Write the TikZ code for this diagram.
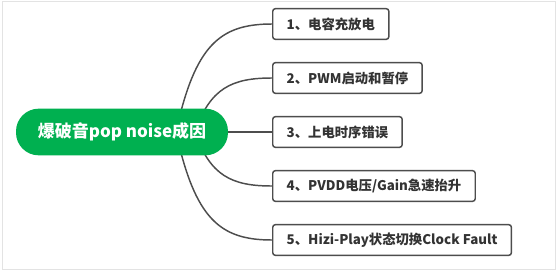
\documentclass[tikz,border=0pt]{standalone}
\usepackage{fontspec}
\setmainfont{Noto Sans CJK SC}
\usepackage{tikz}
\usetikzlibrary{positioning, backgrounds}
\definecolor{rootgreen}{HTML}{00B050}
\definecolor{linegray}{HTML}{4D4D4D}
\definecolor{textgray}{HTML}{333333}
\definecolor{framegray}{HTML}{E3E3E3}

\begin{document}
\begin{tikzpicture}[x=0.75pt, y=-0.75pt,
  root/.style={rectangle, rounded corners=17pt, fill=rootgreen, text=white,
               minimum width=159pt, minimum height=35pt,
               font=\bfseries\fontsize{12.75}{15}\selectfont},
  cause/.style={rectangle, rounded corners=2pt, draw=linegray, line width=1.1pt,
                fill=white, minimum height=23pt, inner xsep=10.5pt, text=textgray,
                anchor=west, font=\bfseries\fontsize{10}{12}\selectfont},
  link/.style={draw=linegray, line width=1.1pt},
]
  \useasboundingbox (0,0) rectangle (558,272);
  \draw[framegray] (2,1) rectangle (555,269);

  \node[root] (root) at (122,132) {爆破音pop noise成因};
  \node[cause] (c1) at (272,24) {1、电容充放电};
  \node[cause] (c2) at (272,78) {2、PWM启动和暂停};
  \node[cause] (c3) at (272,132) {3、上电时序错误};
  \node[cause] (c4) at (272,186) {4、PVDD电压/Gain急速抬升};
  \node[cause] (c5) at (272,240) {5、Hizi-Play状态切换Clock Fault};

  \coordinate (fan1) at (176,132);
  \coordinate (fan2) at (195,132);

  \begin{scope}[on background layer]
    \draw[link] (fan1) .. controls (195,45) and (220,24) .. (c1.west);
    \draw[link] (fan2) .. controls (210,88) and (232,78) .. (c2.west);
    \draw[link] (root.east) -- (c3.west);
    \draw[link] (fan2) .. controls (210,176) and (232,186) .. (c4.west);
    \draw[link] (fan1) .. controls (195,219) and (220,240) .. (c5.west);
  \end{scope}
\end{tikzpicture}
\end{document}
